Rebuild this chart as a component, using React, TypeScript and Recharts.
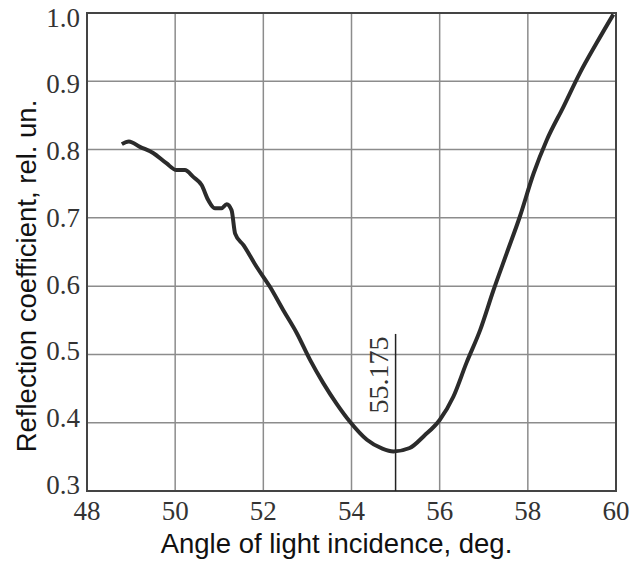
import { LineChart, Line, XAxis, YAxis, CartesianGrid, ReferenceLine, ReferenceArea } from "recharts";

const angles = [48.79, 48.95, 49.2, 49.5, 49.8, 50.03, 50.22, 50.41, 50.6, 50.75, 50.9, 51.05, 51.17, 51.28, 51.36, 51.55, 51.85, 52.15, 52.45, 52.76, 53.06, 53.36, 53.66, 53.97, 54.35, 54.7, 54.95, 55.32, 55.65, 56.0, 56.31, 56.61, 56.92, 57.22, 57.52, 57.82, 58.13, 58.43, 58.81, 59.18, 59.56, 59.94];
const reflection = [0.808, 0.812, 0.804, 0.795, 0.78, 0.77, 0.77, 0.76, 0.748, 0.726, 0.714, 0.714, 0.72, 0.711, 0.677, 0.66, 0.628, 0.599, 0.565, 0.531, 0.492, 0.458, 0.428, 0.401, 0.375, 0.362, 0.358, 0.363, 0.381, 0.404, 0.438, 0.488, 0.536, 0.594, 0.648, 0.702, 0.765, 0.814, 0.863, 0.912, 0.956, 0.998];

const xTicks = [48, 50, 52, 54, 56, 58, 60];
const yTicks = [0.3, 0.4, 0.5, 0.6, 0.7, 0.8, 0.9, 1.0];
const minAngle = 55;
const minLabel = "55.175";
const markerTop = 0.53;
const xTitle = "Angle of light incidence, deg.";
const yTitle = "Reflection coefficient, rel. un.";

const serif = "Liberation Serif";
const sans = "Liberation Sans";

function XTick({ x, y, payload }: any) {
    return (
        <text x={x} y={y + 21} textAnchor="middle" fontFamily={serif} fontSize={27} fill="#333"
              style={{ fontFamily: serif }}>
            {payload.value}
        </text>
    );
}

function YTick({ y, payload }: any) {
    // labels sit a little low at the top and a little high at the bottom, as in the scan
    const shift = 4.5 - ((y - 13) / 478) * 10.5;
    return (
        <text x={80} y={y + shift + 9} textAnchor="end" fontFamily={serif} fontSize={27} fill="#333"
              style={{ fontFamily: serif }}>
            {Number(payload.value).toFixed(1)}
        </text>
    );
}

function XTitle({ viewBox }: any) {
    const cx = viewBox.x + viewBox.width / 2 - 15;
    return (
        <text x={cx} y={553} textAnchor="middle" fontFamily={sans} fontSize={27.5} fill="#111">
            {xTitle}
        </text>
    );
}

function YTitle({ viewBox }: any) {
    const cy = viewBox.y + viewBox.height / 2 + 24;
    return (
        <text x={36} y={cy} transform={`rotate(-90, 36, ${cy})`} textAnchor="middle"
              fontFamily={sans} fontSize={27.5} fill="#111">
            {yTitle}
        </text>
    );
}

function MinLabel({ viewBox }: any) {
    const px = viewBox.x - 8;
    const py = viewBox.y + 41;
    return (
        <text x={px} y={py} transform={`rotate(-90, ${px}, ${py})`} textAnchor="middle"
              fontFamily={serif} fontSize={28} fill="#333" style={{ fontFamily: serif }}>
            {minLabel}
        </text>
    );
}

export default function App() {
    const data = angles.map((a, i) => ({ a, r: reflection[i] }));

    return (
        <div style={{ position: "absolute", left: 0, top: 0, background: "#fff" }}>
            <LineChart width={640} height={561} data={data} margin={{ top: 13, right: 24, bottom: 0, left: 0 }}>
                <CartesianGrid stroke="#8c8c8c" strokeWidth={1.5} />
                <XAxis
                    dataKey="a" type="number" domain={[48, 60]} ticks={xTicks}
                    tick={<XTick />} tickLine={false} axisLine={false} height={70}
                    label={<XTitle />}
                />
                <YAxis
                    dataKey="r" type="number" domain={[0.3, 1.0]} ticks={yTicks}
                    tick={<YTick />} tickLine={false} axisLine={false} width={87}
                    label={<YTitle />}
                />
                <ReferenceArea x1={48} x2={60} y1={0.3} y2={1.0} fill="none" stroke="#444" strokeWidth={2} ifOverflow="visible" />
                <ReferenceLine
                    segment={[{ x: minAngle, y: 0.3 }, { x: minAngle, y: markerTop }]}
                    stroke="#222" strokeWidth={1.5}
                    label={<MinLabel />}
                />
                <Line
                    dataKey="r" type="monotone" stroke="#2b2b2b" strokeWidth={4}
                    dot={false} isAnimationActive={false}
                />
            </LineChart>
        </div>
    );
}
